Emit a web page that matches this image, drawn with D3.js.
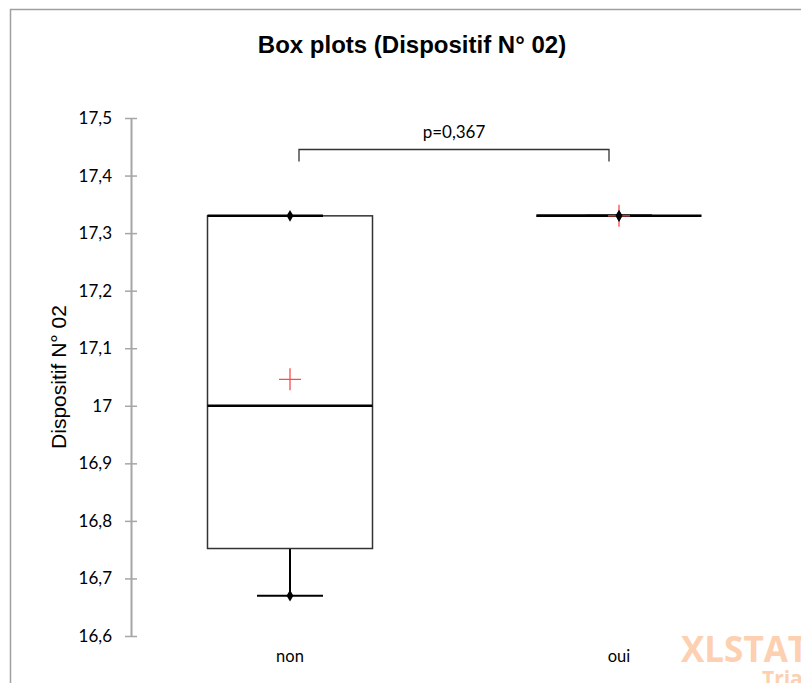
<!DOCTYPE html>
<html>
<head>
<meta charset="utf-8">
<title>Box plots (Dispositif N° 02)</title>
<script src="https://d3js.org/d3.v7.min.js"></script>
<style>
  body { margin: 0; background: #fff; }
  svg { display: block; }
</style>
</head>
<body>
<script>
// data
var groups = ["non", "oui"];
var minVals = [16.67, 17.33];
var q1Vals = [16.752, 17.33];
var medVals = [17.0, 17.33];
var q3Vals = [17.33, 17.33];
var maxVals = [17.33, 17.33];
var meanVals = [17.046, 17.33];
var yTicks = [16.6, 16.7, 16.8, 16.9, 17, 17.1, 17.2, 17.3, 17.4, 17.5];
var pLabel = "p=0,367";

var width = 801, height = 683;
var svg = d3.select("body").append("svg").attr("width", width).attr("height", height);

// outer frame (only top + left visible in the crop)
svg.append("path")
  .attr("d", "M10.5," + height + "V9.5H" + width)
  .attr("fill", "none").attr("stroke", "#a0a0a0").attr("stroke-width", 1.5);

svg.append("text")
  .attr("x", 412).attr("y", 53)
  .attr("text-anchor", "middle")
  .style("font-family", "Liberation Sans, Arial, sans-serif")
  .style("font-weight", "bold").style("font-size", "24px")
  .text("Box plots (Dispositif N° 02)");

var y = d3.scaleLinear().domain([16.6, 17.5]).range([636, 118]);
var x = d3.scaleBand().domain(groups).range([125.5, 783.5]).padding(0);
var boxW = 165;
var fmt = function(d) { return d3.format(".1f")(d).replace(".0", "").replace(".", ","); };

// y axis
var ax = svg.append("g").attr("transform", "translate(131,0)")
  .call(d3.axisLeft(y).tickValues(yTicks).tickFormat(fmt).tickSize(0).tickPadding(19));
ax.select(".domain").attr("stroke", "#a6a6a6").attr("stroke-width", 2);
ax.selectAll(".tick line").attr("x1", -6).attr("x2", 6).attr("stroke", "#a6a6a6").attr("stroke-width", 1.5);
ax.selectAll(".tick text")
  .style("font-family", "Lato, 'Open Sans', sans-serif").style("font-size", "17px").attr("fill", "#000");

svg.append("text")
  .attr("transform", "translate(66,377) rotate(-90)")
  .attr("text-anchor", "middle")
  .style("font-family", "Liberation Sans, Arial, sans-serif").style("font-size", "21px")
  .text("Dispositif N° 02");

// category labels
svg.selectAll(".xl").data(groups).enter().append("text")
  .attr("x", function(d) { return x(d) + x.bandwidth() / 2; })
  .attr("y", 662)
  .attr("text-anchor", "middle")
  .style("font-family", "Lato, 'Open Sans', sans-serif").style("font-size", "16.5px")
  .text(function(d) { return d; });

var g = svg.selectAll(".box").data(groups).enter().append("g")
  .attr("transform", function(d) { return "translate(" + (x(d) + x.bandwidth() / 2) + ",0)"; });

// whisker lines
g.append("line")
  .attr("y1", function(d, i) { return y(minVals[i]); })
  .attr("y2", function(d, i) { return y(q1Vals[i]); })
  .attr("stroke", "#000").attr("stroke-width", 2);
g.append("line")
  .attr("y1", function(d, i) { return y(q3Vals[i]); })
  .attr("y2", function(d, i) { return y(maxVals[i]); })
  .attr("stroke", "#000").attr("stroke-width", 2);

// box
g.append("rect")
  .attr("x", -boxW / 2)
  .attr("y", function(d, i) { return y(q3Vals[i]); })
  .attr("width", boxW)
  .attr("height", function(d, i) { return y(q1Vals[i]) - y(q3Vals[i]); })
  .attr("fill", "none").attr("stroke", "#333").attr("stroke-width", 1.5);

// median
g.append("line")
  .attr("x1", -boxW / 2).attr("x2", boxW / 2)
  .attr("y1", function(d, i) { return y(medVals[i]); })
  .attr("y2", function(d, i) { return y(medVals[i]); })
  .attr("stroke", "#000").attr("stroke-width", 2.5);

// caps
g.append("line")
  .attr("x1", -33).attr("x2", 33)
  .attr("y1", function(d, i) { return y(minVals[i]); })
  .attr("y2", function(d, i) { return y(minVals[i]); })
  .attr("stroke", "#000").attr("stroke-width", 2);
g.append("line")
  .attr("x1", -boxW / 2)
  .attr("x2", 33)
  .attr("y1", function(d, i) { return y(maxVals[i]); })
  .attr("y2", function(d, i) { return y(maxVals[i]); })
  .attr("stroke", "#000").attr("stroke-width", 2.5);

// mean cross
g.append("path")
  .attr("d", function(d, i) { var c = y(meanVals[i]); return "M-11," + c + "H11M0," + (c - 11) + "V" + (c + 11); })
  .attr("stroke", "#ff4b4b").attr("stroke-width", 1.3).attr("fill", "none");

// min/max dots
g.append("path")
  .attr("d", d3.symbol(d3.symbolDiamond, 40))
  .attr("transform", function(d, i) { return "translate(0," + y(minVals[i]) + ")"; });
g.append("path")
  .attr("d", d3.symbol(d3.symbolDiamond, 40))
  .attr("transform", function(d, i) { return "translate(0," + y(maxVals[i]) + ")"; });

// p-value bracket
var bx1 = x("non") + x.bandwidth() / 2 + 9, bx2 = x("oui") + x.bandwidth() / 2 - 10;
var by = 149.5;
svg.append("path")
  .attr("d", "M" + bx1 + "," + (by + 12) + "V" + by + "H" + bx2 + "V" + (by + 12))
  .attr("fill", "none").attr("stroke", "#333").attr("stroke-width", 1.3);
svg.append("text")
  .attr("x", (bx1 + bx2) / 2).attr("y", 138)
  .attr("text-anchor", "middle")
  .style("font-family", "Lato, 'Open Sans', sans-serif").style("font-size", "17px")
  .text(pLabel);

// watermark (cut by the right edge, as in the reference)
svg.append("text")
  .attr("x", 681).attr("y", 662)
  .style("font-family", "'Open Sans', Lato, sans-serif").style("font-weight", "bold").style("font-size", "35px")
  .attr("fill", "#fcd0b0").text("XLSTAT");
svg.append("text")
  .attr("x", 762).attr("y", 686)
  .style("font-family", "'Open Sans', Lato, sans-serif").style("font-weight", "bold").style("font-size", "21px")
  .attr("fill", "#fcd0b0").text("Trial");
</script>
</body>
</html>
